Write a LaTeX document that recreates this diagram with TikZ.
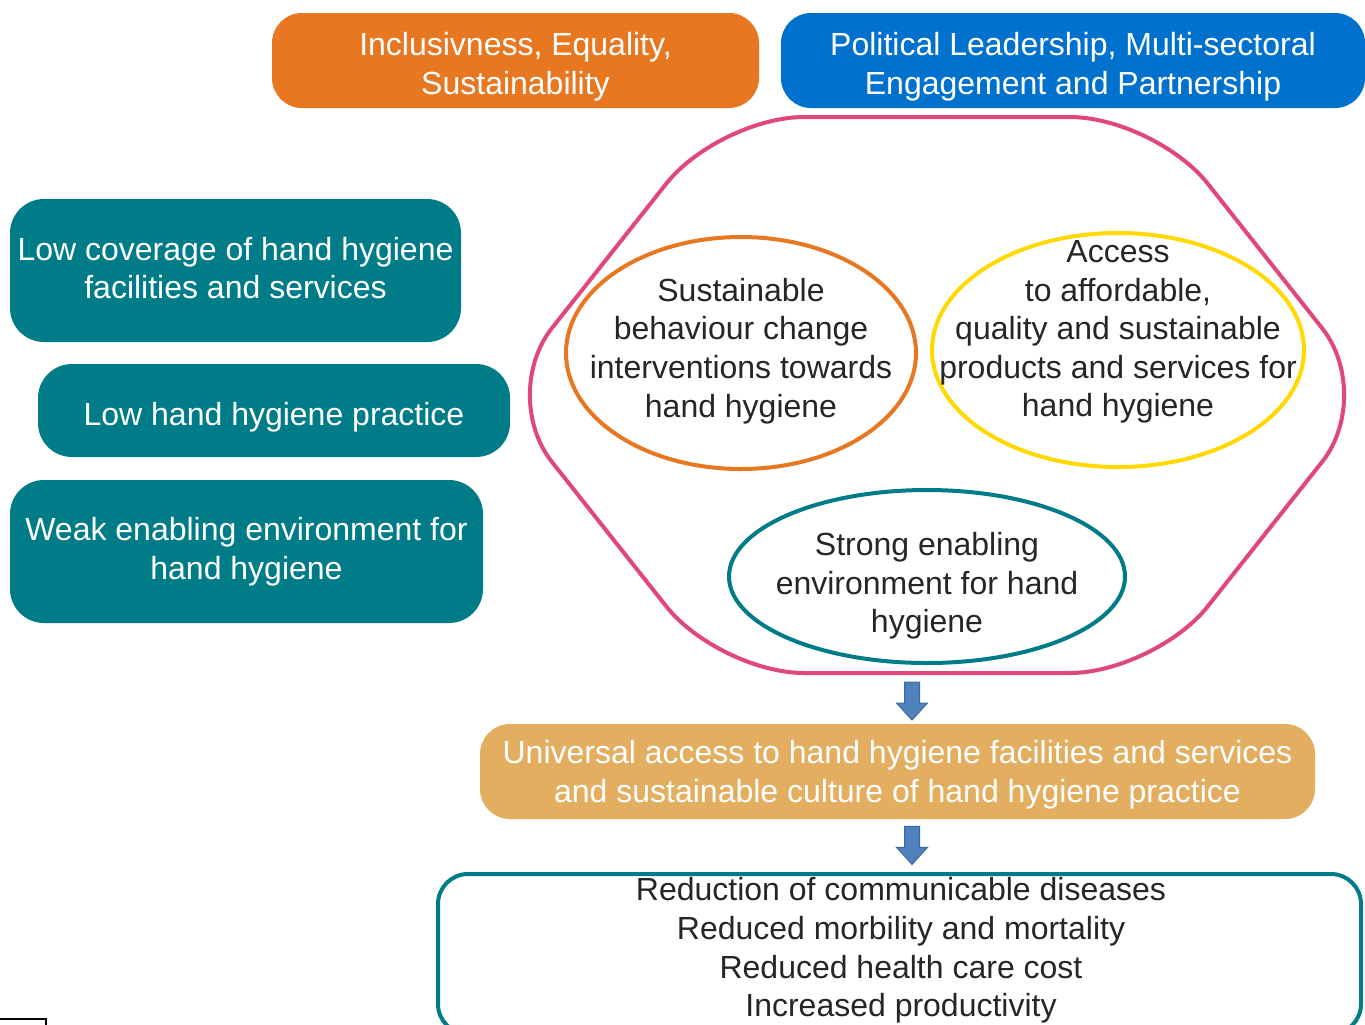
\documentclass[tikz,border=0pt]{standalone}
\usepackage{fontspec}
\setmainfont{Liberation Sans}
\usetikzlibrary{shapes.geometric,calc}
\definecolor{pillorange}{RGB}{232,119,34}
\definecolor{pillblue}{RGB}{0,114,206}
\definecolor{hhteal}{RGB}{0,124,137}
\definecolor{hhpink}{RGB}{224,72,124}
\definecolor{hhyellow}{RGB}{255,217,0}
\definecolor{hhtan}{RGB}{227,174,96}
\definecolor{arrowblue}{RGB}{79,129,189}
\definecolor{arrowedge}{RGB}{60,104,160}
\definecolor{darktext}{RGB}{38,38,38}
\begin{document}
\begin{tikzpicture}[x=0.5pt, y=-0.5pt,
		every node/.style={font=\fontsize{16}{19.3}\selectfont, align=center, inner sep=0pt},
		pill/.style={rounded corners=15pt, text=white, minimum height=47.5pt},
		problem/.style={fill=hhteal, rounded corners=17pt, text=white},
		pillar/.style={ellipse, draw, line width=2pt},
		pillartext/.style={text=darktext},
		blockarrow/.style={fill=arrowblue, draw=arrowedge, line width=0.5pt}]
	\fill[white] (0, 0) rectangle (1365, 1024);
	\useasboundingbox (0, 0) rectangle (1365, 1024);
	\node[pill, fill=pillorange, minimum width=243.5pt] (values) at (515.5, 60.5) {\rule{0pt}{17.7pt}Inclusivness, Equality,\\Sustainability};
	\node[pill, fill=pillblue, minimum width=292pt] (leadership) at (1073, 60.5) {\rule{0pt}{17.7pt}Political Leadership, Multi-sectoral\\Engagement and Partnership};
	\node[problem, minimum width=225.5pt, minimum height=71.5pt] (coverage) at (235.5, 270.5) {Low coverage of hand hygiene\\facilities and services\rule[-2.5pt]{0pt}{0pt}};
	\node[problem, minimum width=236pt, minimum height=46.5pt] (practice) at (274, 410.5) {\rule{0pt}{18.7pt}Low hand hygiene practice};
	\node[problem, minimum width=236.5pt, minimum height=71.5pt] (weakenv) at (246.5, 551.5) {Weak enabling environment for\\hand hygiene};
	\draw[hhpink, line width=2pt, rounded corners=42.5pt] (937, 117) -- (1155, 117) -- (1375, 395) -- (1155, 673) -- (719, 673) -- (499, 395) -- (719, 117) -- cycle;
	\coordinate (ringbase) at (912, 673);
	\node[pillar, draw=pillorange, minimum width=175pt, minimum height=116pt] (behaviour) at (741, 353) {};
	\node[pillartext] (behaviourtext) at (741, 351) {Sustainable\\behaviour change\\interventions towards\\hand hygiene};
	\node[pillar, draw=hhyellow, minimum width=186pt, minimum height=117pt] (access) at (1118, 350) {};
	\node[pillartext] (accesstext) at (1118, 332) {Access\\to affordable,\\quality and sustainable\\products and services for\\hand hygiene};
	\node[pillar, draw=hhteal, minimum width=198pt, minimum height=86.5pt] (strongenv) at (927, 576.5) {};
	\node[pillartext] (strongenvtext) at (927, 586) {Strong enabling\\environment for hand\\hygiene};
	\filldraw[blockarrow] ($(ringbase)+(-7.5, 9)$) -- ++(15, 0) -- ++(0, 21) -- ++(8, 0) -- ++(-15.5, 17) -- ++(-15.5, -17) -- ++(8, 0) -- cycle;
	\node[pill, fill=hhtan, minimum width=417.5pt] (goal) at (897.5, 771.5) {\rule{0pt}{14.7pt}Universal access to hand hygiene facilities and services\\and sustainable culture of hand hygiene practice};
	\filldraw[blockarrow] ($(goal.south -| ringbase)+(-7.5, 7)$) -- ++(15, 0) -- ++(0, 21) -- ++(8, 0) -- ++(-15.5, 17) -- ++(-15.5, -17) -- ++(8, 0) -- cycle;
	\node[draw=hhteal, line width=2pt, rounded corners=15pt, minimum width=461.5pt, minimum height=80pt] (impact) at (899.5, 954) {};
	\node[pillartext] (impacttext) at (901, 950.5) {Reduction of communicable diseases\\Reduced morbility and mortality\\Reduced health care cost\\Increased productivity};
	\draw[line width=1pt] (-2, 1019) rectangle (46, 1040);
\end{tikzpicture}
\end{document}
